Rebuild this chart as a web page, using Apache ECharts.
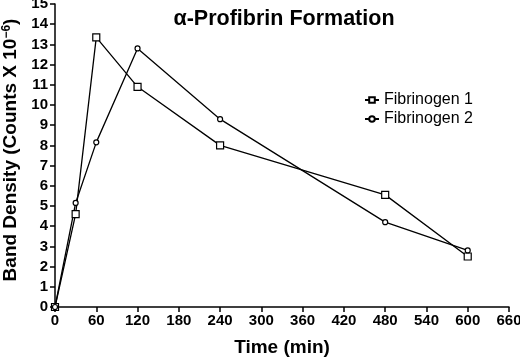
<!DOCTYPE html>
<html>
<head>
<meta charset="utf-8">
<script src="https://cdn.jsdelivr.net/npm/echarts@6/dist/echarts.min.js"></script>
<style>
  html, body { margin: 0; padding: 0; background: #fff; }
  #chart { width: 520px; height: 357px; }
</style>
</head>
<body>
<div id="chart"></div>
<script>
// 数据
var times = [0, 30, 60, 120, 240, 480, 600];
var fib1 = [0, 4.6, 13.35, 10.9, 8.0, 5.55, 2.5];
var fib2 = [0, 5.15, 8.15, 12.8, 9.3, 4.2, 2.8];
var seriesNames = ["Fibrinogen 1", "Fibrinogen 2"];

function pairs(ys) {
  return times.map(function (t, i) { return [t, ys[i]]; });
}

var chart = echarts.init(document.getElementById("chart"));
var font = "Liberation Sans, Arial, sans-serif";

var option = {
  animation: false,
  title: {
    text: "α-Profibrin Formation",
    left: 279,
    textAlign: "center",
    top: 3,
    textStyle: { fontFamily: font, fontSize: 21.5, fontWeight: "bold", color: "#000" }
  },
  legend: {
    orient: "vertical",
    left: 359,
    top: 87,
    itemGap: 3,
    itemWidth: 14,
    itemHeight: 7,
    textStyle: { fontFamily: font, fontSize: 16, color: "#000" },
    data: seriesNames
  },
  grid: { left: 55, right: 11, top: 4, bottom: 50, outerBoundsMode: "none", containLabel: false },
  xAxis: {
    type: "value",
    min: 0,
    max: 660,
    interval: 60,
    name: "Time (min)",
    nameLocation: "middle",
    nameGap: 31,
    nameTextStyle: { fontFamily: font, fontSize: 19, fontWeight: "bold", color: "#000" },
    splitLine: { show: false },
    axisLine: { lineStyle: { color: "#000", width: 1.5 } },
    axisTick: { length: 5, lineStyle: { color: "#000", width: 1.5 } },
    axisLabel: { fontFamily: font, fontSize: 15, fontWeight: "bold", color: "#000", margin: 6 }
  },
  yAxis: {
    type: "value",
    min: 0,
    max: 15,
    interval: 1,
    name: "Band Density (Counts X 10{sup|−6})",
    nameLocation: "middle",
    nameGap: 33,
    nameRotate: 90,
    nameTextStyle: {
      fontFamily: font, fontSize: 19, fontWeight: "bold", color: "#000",
      padding: [0, 0, 0, 11],
      rich: {
        sup: { fontFamily: font, fontSize: 12, fontWeight: "bold", color: "#000", verticalAlign: "top", padding: [0, 0, 9, 0] }
      }
    },
    splitLine: { show: false },
    axisLine: { show: true, lineStyle: { color: "#000", width: 1.5 } },
    axisTick: { show: true, length: 5, lineStyle: { color: "#000", width: 1.5 } },
    axisLabel: { fontFamily: font, fontSize: 15, fontWeight: "bold", color: "#000", margin: 7 }
  },
  series: [
    {
      name: seriesNames[0],
      type: "line",
      data: pairs(fib1),
      symbol: "rect",
      symbolSize: 7,
      lineStyle: { color: "#000", width: 1.3 },
      itemStyle: { color: "#fff", borderColor: "#000", borderWidth: 1.2 }
    },
    {
      name: seriesNames[1],
      type: "line",
      data: pairs(fib2),
      symbol: "circle",
      symbolSize: 5,
      lineStyle: { color: "#000", width: 1.3 },
      itemStyle: { color: "#fff", borderColor: "#000", borderWidth: 1.2 }
    }
  ]
};

chart.setOption(option);
</script>
</body>
</html>
